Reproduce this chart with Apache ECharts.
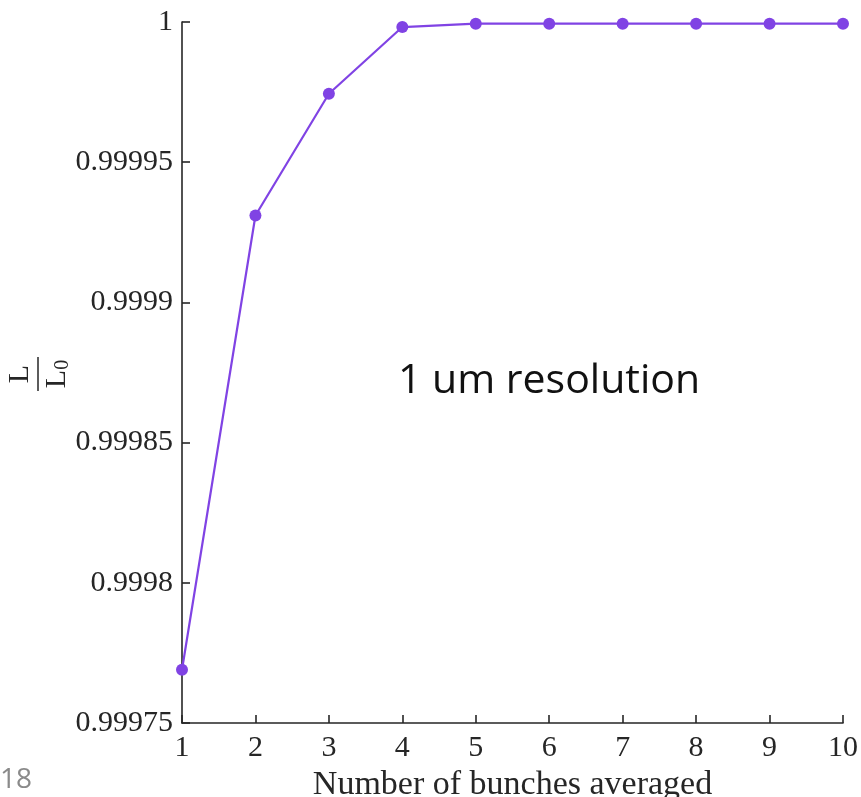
<!DOCTYPE html>
<html>
<head>
<meta charset="utf-8">
<script src="https://cdn.jsdelivr.net/npm/echarts@6/dist/echarts.min.js"></script>
<style>
  html, body { margin: 0; padding: 0; background: #ffffff; }
  #chart { width: 861px; height: 797px; }
</style>
</head>
<body>
<div id="chart"></div>
<script>
// Number of bunches averaged
const bunches = [1, 2, 3, 4, 5, 6, 7, 8, 9, 10];
// Normalised luminance L / L0
const lumiRatio = [0.999769, 0.999931, 0.9999744, 0.9999982, 0.9999994, 0.9999994, 0.9999994, 0.9999994, 0.9999994, 0.9999994];
// Y tick labels, bottom to top
const yTickLabels = ['0.99975', '0.9998', '0.99985', '0.9999', '0.99995', '1'];
const xTickLabels = ['1', '2', '3', '4', '5', '6', '7', '8', '9', '10'];

const Y_MIN = 0.99975, Y_MAX = 1, Y_STEP = 0.00005;
const axisColor = '#262626';
const serif = '"Liberation Serif", "DejaVu Serif", serif';
const purple = '#8043e4';

const chart = echarts.init(document.getElementById('chart'), null, { renderer: 'canvas' });

chart.setOption({
  animation: false,
  backgroundColor: '#ffffff',
  grid: { left: 182, right: 18, top: 22, bottom: 74, containLabel: false, outerBoundsMode: 'none' },
  xAxis: {
    type: 'value',
    min: 1, max: 10, interval: 1,
    name: 'Number of bunches averaged',
    nameLocation: 'middle',
    nameGap: 42,
    nameTextStyle: { fontFamily: serif, fontSize: 34, color: axisColor },
    axisLine: { show: true, onZero: false, lineStyle: { color: axisColor, width: 1.6 } },
    axisTick: { show: true, inside: true, length: 8, lineStyle: { color: axisColor, width: 1.6 } },
    axisLabel: {
      fontFamily: serif, fontSize: 30, color: axisColor, margin: 10,
      formatter: v => xTickLabels[Math.round(v) - 1]
    },
    splitLine: { show: false }
  },
  yAxis: {
    type: 'value',
    min: Y_MIN, max: Y_MAX, interval: Y_STEP,
    axisLine: { show: true, onZero: false, lineStyle: { color: axisColor, width: 1.6 } },
    axisTick: { show: true, inside: true, length: 8, lineStyle: { color: axisColor, width: 1.6 } },
    axisLabel: {
      fontFamily: serif, fontSize: 30, color: axisColor, margin: 9,
      formatter: v => yTickLabels[Math.round((v - Y_MIN) / Y_STEP)]
    },
    splitLine: { show: false }
  },
  series: [{
    type: 'line',
    data: bunches.map((b, i) => [b, lumiRatio[i]]),
    symbol: 'circle',
    symbolSize: 12,
    clip: false,
    lineStyle: { color: purple, width: 2.2 },
    itemStyle: { color: purple, borderWidth: 0 }
  }],
  graphic: [
    {
      // rotated fraction L / L0 as the y-axis title
      type: 'group',
      x: 38, y: 374,
      rotation: Math.PI / 2,
      children: [
        {
          type: 'text', x: 0, y: -3,
          style: { text: 'L', font: '30px ' + serif, fill: axisColor, align: 'center', verticalAlign: 'bottom' }
        },
        {
          type: 'line',
          shape: { x1: -17, y1: 0, x2: 17, y2: 0 },
          style: { stroke: axisColor, lineWidth: 1.5 }
        },
        {
          type: 'text', x: 0, y: 3,
          style: {
            text: '{m|L}{s|0}',
            align: 'center', verticalAlign: 'top',
            rich: {
              m: { fontFamily: serif, fontSize: 30, fill: axisColor, color: axisColor },
              s: { fontFamily: serif, fontSize: 20, fill: axisColor, color: axisColor, padding: [12, 0, 0, 0] }
            }
          }
        }
      ]
    },
    {
      type: 'text', left: 398, top: 361,
      style: { text: '1 um resolution', font: '41px "Open Sans", "Noto Sans", sans-serif', fill: '#111111' }
    },
    {
      type: 'text', left: 0, top: 766,
      style: { text: '18', font: '28px "Open Sans", "Noto Sans", sans-serif', fill: '#8a8a8a' }
    }
  ]
});
</script>
</body>
</html>
